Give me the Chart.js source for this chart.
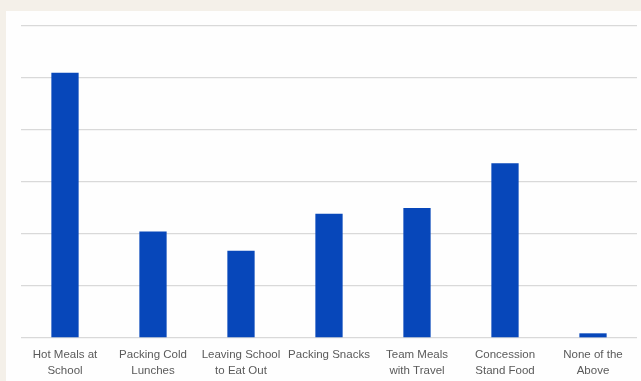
<!DOCTYPE html>
<html>
<head>
<meta charset="utf-8">
<script src="https://cdn.jsdelivr.net/npm/chart.js@4"></script>
<style>
  html, body { margin: 0; padding: 0; background: #f4f0e9; }
  canvas { display: block; }
</style>
</head>
<body>
<canvas id="c" width="641" height="381"></canvas>
<script>
// Meal options
const categories = [
  ["Hot Meals at", "School"],
  ["Packing Cold", "Lunches"],
  ["Leaving School", "to Eat Out"],
  ["Packing Snacks"],
  ["Team Meals", "with Travel"],
  ["Concession", "Stand Food"],
  ["None of the", "Above"]
];
const responses = [51, 20.5, 16.8, 23.9, 25.0, 33.6, 0.9];
const yTicks = [0, 10, 20, 30, 40, 50, 60];

// Beige page with a white card behind the plot
const cardBackground = {
  id: 'cardBackground',
  beforeDraw(chart) {
    const ctx = chart.ctx;
    ctx.save();
    ctx.fillStyle = '#f4f0e9';
    ctx.fillRect(0, 0, chart.width, chart.height);
    ctx.fillStyle = '#fefefe';
    ctx.fillRect(6, 11, chart.width - 6, chart.height - 11);
    ctx.restore();
  }
};

new Chart(document.getElementById('c'), {
  type: 'bar',
  data: {
    labels: categories,
    datasets: [{
      data: responses,
      backgroundColor: '#0747ba',
      categoryPercentage: 1,
      barPercentage: 0.31
    }]
  },
  options: {
    responsive: false,
    devicePixelRatio: 1,
    animation: false,
    layout: { padding: { left: 21, right: 4, top: 26, bottom: -7 } },
    plugins: { legend: { display: false }, tooltip: { enabled: false } },
    scales: {
      x: {
        grid: { display: false, drawTicks: false },
        border: { display: false },
        ticks: {
          color: '#5a5a5a',
          font: { family: 'Liberation Sans', size: 11.5, lineHeight: '16px' },
          maxRotation: 0,
          autoSkip: false,
          padding: 9
        }
      },
      y: {
        min: yTicks[0],
        max: yTicks[yTicks.length - 1],
        afterBuildTicks(axis) { axis.ticks = yTicks.map(v => ({ value: v })); },
        grid: { color: '#d9d9d9', lineWidth: 1.3, drawTicks: false },
        border: { display: false },
        ticks: { display: false }
      }
    }
  },
  plugins: [cardBackground]
});
</script>
</body>
</html>
